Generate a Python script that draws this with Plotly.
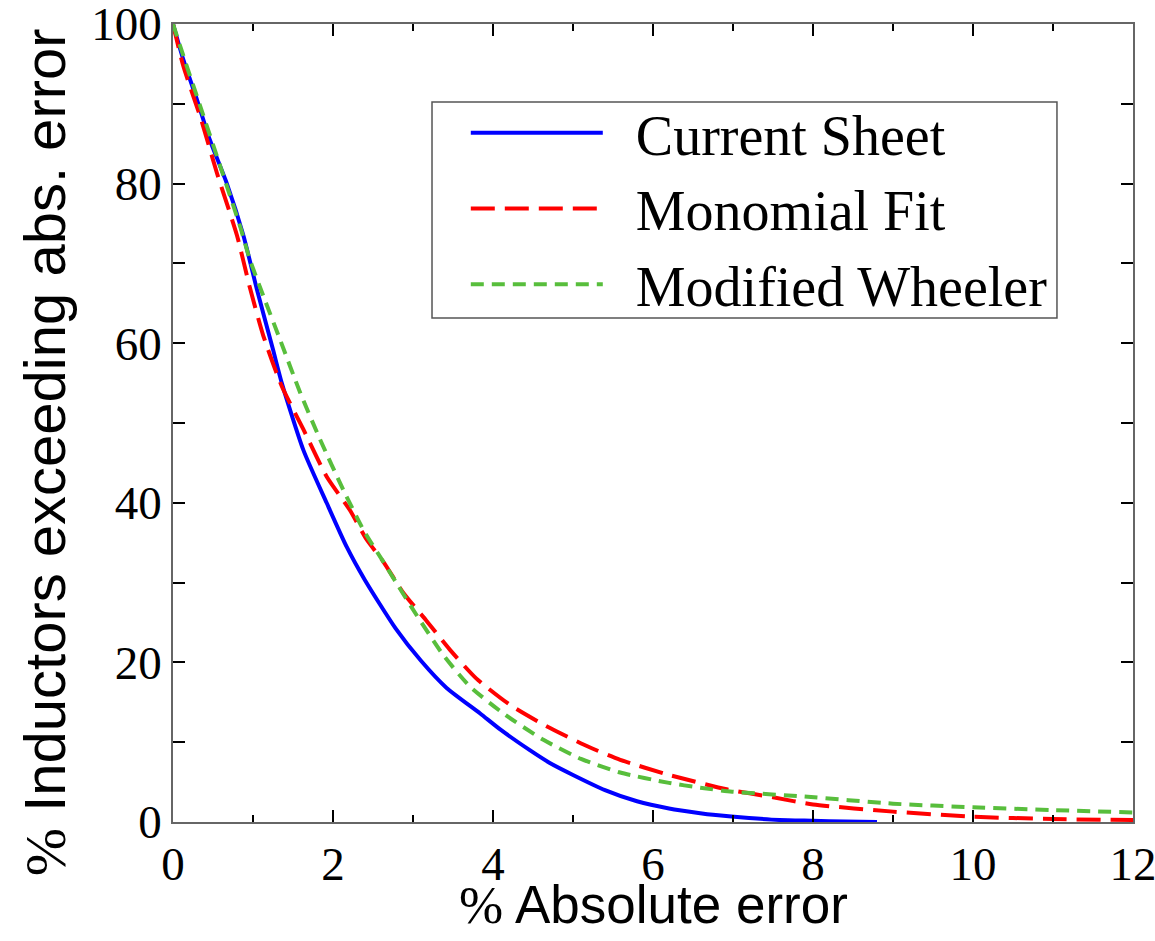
import plotly.graph_objects as go

# Current Sheet (blue solid)
cs_x = [0, 0.13, 0.3, 0.46, 0.67, 0.88, 1.05, 1.25, 1.36, 1.63, 1.92, 2.17, 2.4, 2.78, 3.1,
        3.42, 3.84, 4.09, 4.46, 4.71, 5.0, 5.4, 5.8, 6.2, 6.59, 6.75, 7.2, 7.58, 8.0, 8.4, 8.8]
cs_y = [100, 95.5, 90.5, 85.5, 80.1, 73.5, 66.7, 59.2, 55.0, 46.6, 40.0, 34.5, 30.3, 24.3, 20.2,
        16.8, 13.6, 11.6, 9.0, 7.4, 5.9, 4.0, 2.6, 1.7, 1.1, 0.9, 0.5, 0.25, 0.15, 0.05, 0]

# Monomial Fit (red long dash)
mf_x = [0, 0.13, 0.34, 0.55, 0.80, 0.96, 1.13, 1.36, 1.63, 1.92, 2.21, 2.42, 2.63, 2.88, 3.17,
        3.46, 3.79, 4.21, 4.67, 5.2, 5.59, 6.2, 6.92, 7.5, 8.0, 9.0, 10.0, 11.0, 12.0]
mf_y = [100, 94.7, 88.4, 81.3, 73.5, 67.0, 60.9, 54.6, 49.2, 43.3, 39.1, 35.4, 32.6, 28.7, 25.2,
        21.6, 18.0, 14.7, 12.0, 9.4, 7.8, 5.9, 4.1, 3.1, 2.2, 1.3, 0.66, 0.37, 0.25]

# Modified Wheeler (green short dash)
mw_x = [0, 0.13, 0.34, 0.59, 0.84, 0.96, 1.13, 1.34, 1.59, 1.84, 2.13, 2.38, 2.63, 2.79, 3.04,
        3.38, 3.71, 4.13, 4.63, 5.1, 5.59, 6.2, 6.59, 6.99, 7.88, 9.0, 10.0, 11.0, 12.0]
mw_y = [100, 96.0, 89.7, 82.2, 74.6, 70.5, 65.9, 60.4, 53.8, 47.9, 41.6, 36.6, 32.6, 30.0, 26.0,
        20.9, 17.0, 13.6, 10.3, 7.9, 6.2, 4.9, 4.3, 3.8, 3.2, 2.3, 1.84, 1.5, 1.2]

series_names = ["Current Sheet", "Monomial Fit", "Modified Wheeler"]
NB = "\u00a0\u00a0"

fig = go.Figure()
fig.add_trace(go.Scatter(x=cs_x, y=cs_y, mode="lines", name=NB + series_names[0],
                         line=dict(color="#0000ff", width=4, shape="spline", smoothing=0.6)))
fig.add_trace(go.Scatter(x=mf_x, y=mf_y, mode="lines", name=NB + series_names[1],
                         line=dict(color="#ff0000", width=4, dash="24px,10px",
                                   shape="spline", smoothing=0.6)))
fig.add_trace(go.Scatter(x=mw_x, y=mw_y, mode="lines", name=NB + series_names[2],
                         line=dict(color="#58be3c", width=4, dash="13px,8px",
                                   shape="spline", smoothing=0.6)))

tickfont = dict(family="Liberation Serif", size=47, color="black")
axis_common = dict(showline=True, linecolor="#666666", linewidth=1.5, mirror="ticks",
                   ticks="inside", tickcolor="black", tickwidth=1.5, ticklen=12,
                   showgrid=False, zeroline=False, tickfont=tickfont,
                   ticklabeloverflow="allow", automargin=False)

fig.update_layout(
    width=1155, height=941, autosize=False,
    margin=dict(l=173, r=22, t=24, b=119),
    plot_bgcolor="white", paper_bgcolor="white",
    xaxis=dict(range=[0, 12], tick0=0, dtick=2,
               minor=dict(dtick=1, ticks="inside", ticklen=7, tickcolor="black", tickwidth=1.5),
               **axis_common),
    yaxis=dict(range=[0, 100], tick0=0, dtick=20,
               minor=dict(dtick=10, ticks="inside", ticklen=12, tickcolor="black", tickwidth=1.5),
               **axis_common),
    legend=dict(x=0.305, y=0.9175, xanchor="left", yanchor="top",
                borderwidth=0, bgcolor="rgba(0,0,0,0)",
                font=dict(family="Liberation Serif", size=56, color="black"),
                itemwidth=132, tracegroupgap=0),
    showlegend=True,
    shapes=[dict(type="rect", xref="paper", yref="paper",
                 x0=0.2698, x1=0.9208, y0=0.6316, y1=0.9023,
                 line=dict(color="#555555", width=1.5), fillcolor="rgba(0,0,0,0)")],
    annotations=[
        dict(text="<span style='font-family:Liberation Serif'>%</span> Absolute error",
             xref="paper", yref="paper", x=0.5, y=-0.104, xanchor="center", yanchor="middle",
             showarrow=False, font=dict(family="Liberation Sans", size=53, color="black")),
        dict(text="<span style='font-family:Liberation Serif'>%</span> Inductors exceeding abs. error",
             xref="paper", yref="paper", x=-0.133, y=0.4637, xanchor="center", yanchor="middle",
             textangle=-90, showarrow=False,
             font=dict(family="Liberation Sans", size=58, color="black")),
    ],
)

fig.write_html("out.html")
